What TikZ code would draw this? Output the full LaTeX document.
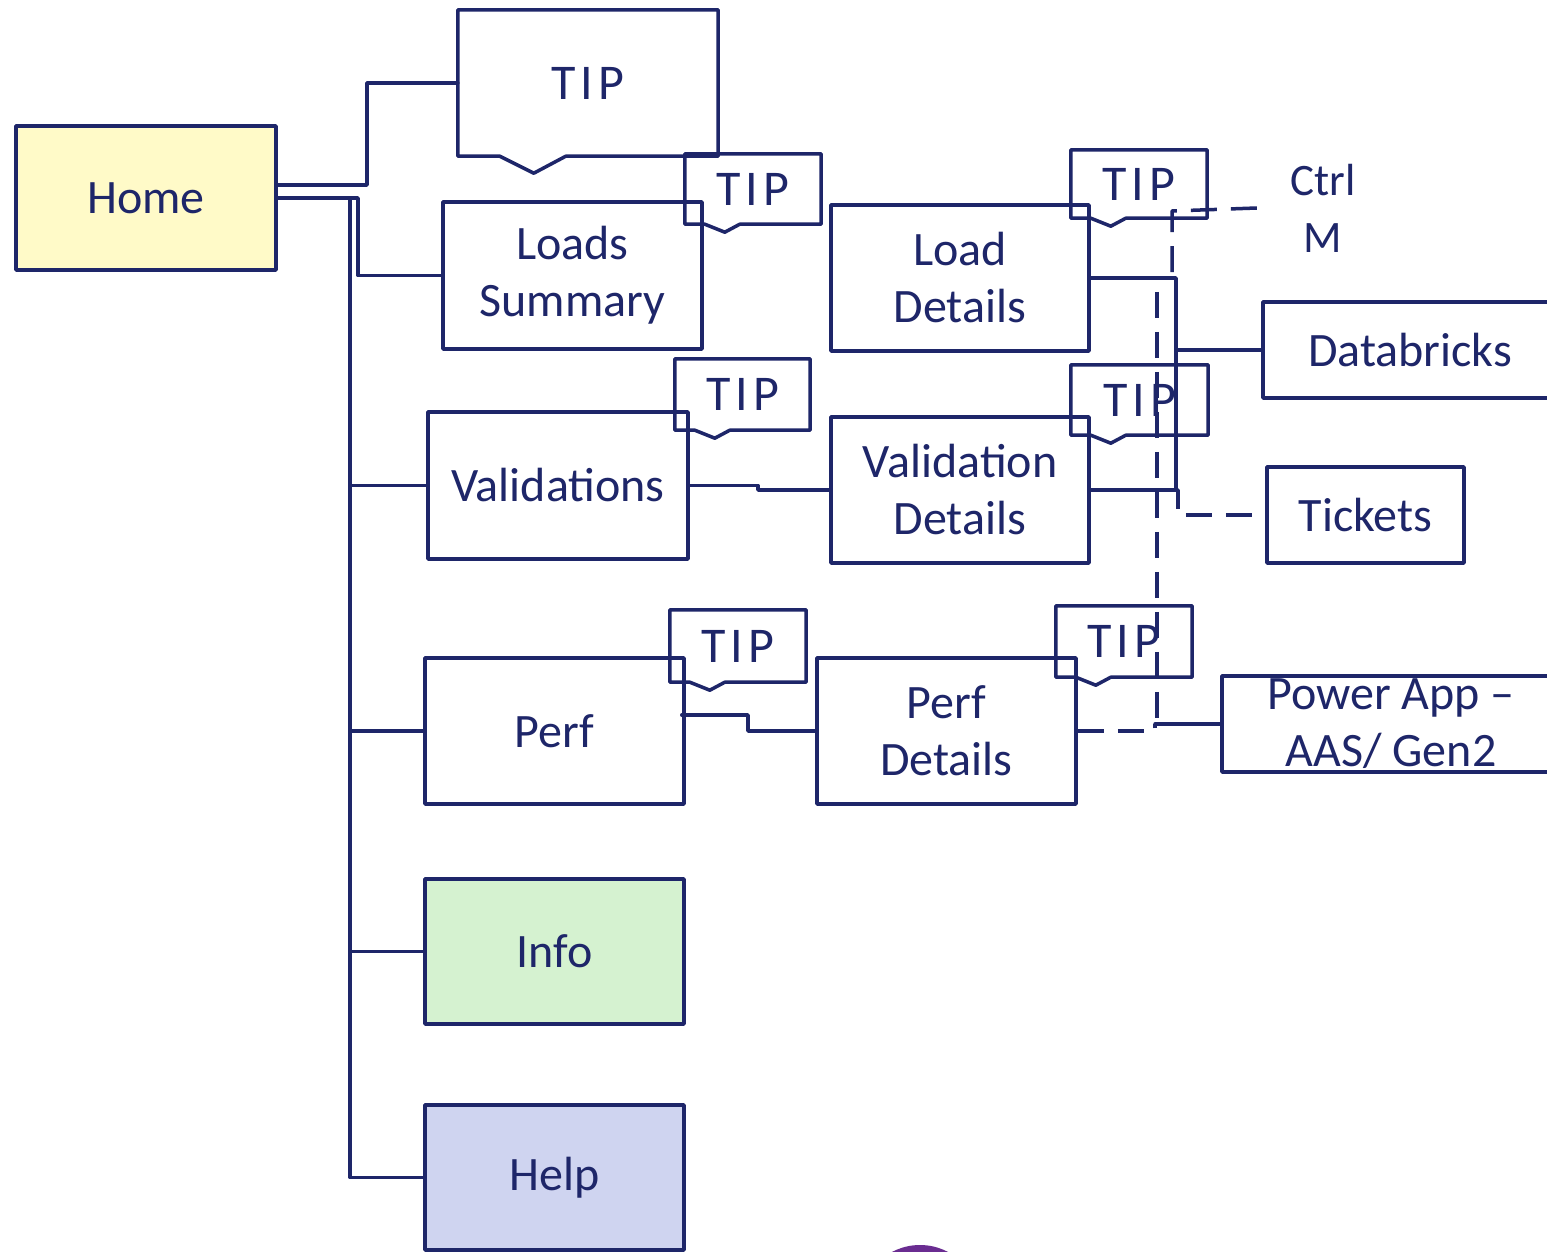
\documentclass[tikz,border=0pt]{standalone}
\usepackage{fontspec}
\setmainfont{Carlito}
\usetikzlibrary{calc}
\definecolor{navy}{RGB}{30,38,105}
\definecolor{homefill}{RGB}{255,250,200}
\definecolor{infofill}{RGB}{213,242,208}
\definecolor{helpfill}{RGB}{207,212,240}
\definecolor{dotpurple}{RGB}{106,44,145}
\newcommand\tipout[5]{\draw[ln] (#1.south west) -- (#1.north west) -- (#1.north east) -- (#1.south east) -- ($(#1.south west)+(#4,0)$) -- ($(#1.south west)+(#3,#5)$) -- ($(#1.south west)+(#2,0)$) -- cycle;}
\begin{document}
\begin{tikzpicture}[x=1pt,y=-1pt,
  ln/.style={draw=navy,line width=3.5pt,line join=round,line cap=round},
  dln/.style={ln,line cap=butt,dash pattern=on 26pt off 14pt},
  txt/.style={text=navy,font=\fontsize{48}{57}\selectfont,align=center,inner sep=0pt},
  box/.style n args={2}{txt,ln,minimum width=#1pt,minimum height=#2pt},
  tipbox/.style n args={2}{txt,font=\fontsize{50}{57}\selectfont\addfontfeature{LetterSpace=10},minimum width=#1pt,minimum height=#2pt}]
\useasboundingbox (0,0) rectangle (1547,1252);
\clip (0,0) rectangle (1547,1252);
\fill[white] (0,0) rectangle (1547,1252);
\fill[dotpurple] (920,1305) circle (60pt);

% main boxes
\node[box={260}{144},fill=homefill] (h) at (146,198) {Home};
\node[box={259}{147}] (ls) at (572.5,275.5) {Loads\\Summary};
\node[box={260}{147}] (val) at (558,485.5) {Validations};
\node[box={259}{146}] (perf) at (554.5,731) {Perf};
\node[box={259}{145},fill=infofill] (info) at (554.5,951.5) {Info};
\node[box={259}{145},fill=helpfill] (help) at (554.5,1177.5) {Help};
\node[box={258}{146}] (ld) at (960,278) {Load\\Details};
\node[box={258}{146}] (vd) at (960,490) {Validation\\Details};
\node[box={259}{146}] (pd) at (946.5,731) {Perf\\Details};
\node[box={294}{96}] (db) at (1410,350) {Databricks};
\node[box={197}{96}] (tk) at (1365.5,515) {Tickets};
\node[box={338}{96}] (pa) at (1391,724) {Power App --\\AAS/ Gen2};
\node[txt,font=\fontsize{45}{57}\selectfont,minimum width=132pt] (cm) at (1323,208) {Ctrl\\M};

% TIP callouts
\node[tipbox={260}{146}] (tb) at (588,83) {TIP};
\node[tipbox={136}{70}] (t1) at (753,189) {TIP};
\node[tipbox={135}{71}] (t2) at (742.5,394.5) {TIP};
\node[tipbox={136}{68}] (t3) at (1139,184) {TIP};
\node[tipbox={137}{70}] (t4) at (1139.5,400) {TIP};
\node[tipbox={136}{72}] (t5) at (738,646) {TIP};
\node[tipbox={136}{71}] (t6) at (1124,641.5) {TIP};
\tipout{tb}{42}{76}{108}{17}
\tipout{t1}{20}{40}{55}{8}
\tipout{t2}{20}{40}{55}{8}
\tipout{t3}{20}{40}{55}{8}
\tipout{t4}{20}{40}{55}{8}
\tipout{t5}{20}{40}{55}{8}
\tipout{t6}{20}{40}{55}{8}

% Home tree
\coordinate (tr) at (350,198);
\draw[ln] ($(h.east)+(0,-13)$) -- (367,185) |- (tb.west);
\draw[ln] (h.east) -- (358,198) |- (ls.west);
\draw[ln] (h.east) -- (tr) |- (help.west);
\draw[ln] (tr |- val.west) -- (val.west);
\draw[ln] (tr |- perf.west) -- (perf.west);
\draw[ln] (tr |- info.west) -- (info.west);

% second level
\draw[ln] (val.east) -- (758,485.5) -- (758,490) -- (vd.west);
\draw[ln] ($(perf.east)+(-4,-16)$) -- (748,715) |- (pd.west);

% right side
\draw[ln] (ld.east) -- (1176,278) |- (db.west);
\draw[ln] (vd.east) -- (1176,490) |- (db.west);
\draw[dln] (vd.east) -- (1178,490) -- (1178,515) -- (tk.west);
\draw[dln] (ld.east) -- (1157,278) |- (pa.west);
\draw[dln] (cm.west) -- (1172,211) -- (1172,278) -- (ld.east);
\coordinate (jpa) at (1155,724);
\draw[dln] (pd.east) -- (1155,731) -- (jpa);
\draw[ln] (jpa) -- (pa.west);
\end{tikzpicture}
\end{document}
